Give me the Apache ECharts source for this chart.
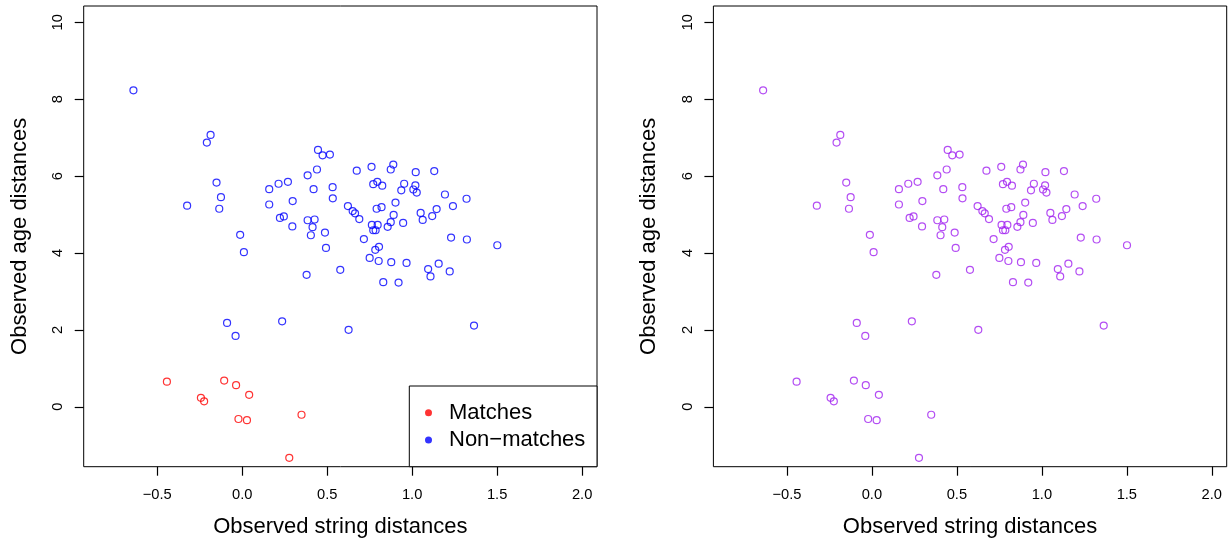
<!DOCTYPE html>
<html>
<head>
<meta charset="utf-8">
<script src="https://cdn.jsdelivr.net/npm/echarts@6/dist/echarts.min.js"></script>
<style>
html, body { margin: 0; padding: 0; background: #fff; }
#chart { width: 1230px; height: 541px; }
</style>
</head>
<body>
<div id="chart"></div>
<script>
// 匹配对 (红色)
var matchX = [-0.443, -0.106, -0.036, 0.041, -0.243, -0.224, -0.022, 0.028, 0.349, 0.277];
var matchY = [0.65, 0.68, 0.56, 0.31, 0.23, 0.14, -0.32, -0.35, -0.21, -1.33];

// 非匹配对 (蓝色)
var nonMatchX = [-0.64, -0.186, -0.208, -0.151, -0.125, -0.324, -0.135, -0.012, 0.010, -0.089,
    -0.039, 0.235, 0.626, 1.364, 0.446, 0.473, 0.516, 0.385, 0.440, 0.159,
    0.214, 0.269, 0.420, 0.532, 0.533, 0.159, 0.297, 0.222, 0.245, 0.295,
    0.385, 0.426, 0.414, 0.404, 0.487, 0.493, 0.674, 0.761, 0.889, 0.874,
    1.021, 1.130, 0.771, 0.795, 0.824, 0.953, 0.936, 1.019, 1.007, 1.027,
    0.902, 0.622, 0.650, 0.664, 0.689, 0.791, 0.820, 0.891, 0.874, 0.856,
    0.947, 0.763, 0.797, 0.771, 0.785, 1.050, 1.144, 1.062, 1.118, 0.716,
    0.805, 0.783, 0.750, 0.803, 0.877, 0.967, 1.094, 1.108, 1.156, 1.221,
    1.193, 1.320, 1.240, 1.229, 1.322, 1.501, 0.379, 0.577, 0.830, 0.920];
var nonMatchY = [8.23, 7.07, 6.87, 5.83, 5.45, 5.23, 5.15, 4.47, 4.02, 2.18,
    1.84, 2.22, 2.00, 2.11, 6.68, 6.54, 6.56, 6.02, 6.17, 5.66,
    5.80, 5.85, 5.66, 5.71, 5.42, 5.26, 5.35, 4.91, 4.95, 4.69,
    4.85, 4.87, 4.67, 4.46, 4.53, 4.13, 6.14, 6.24, 6.30, 6.17,
    6.10, 6.13, 5.79, 5.85, 5.75, 5.80, 5.63, 5.76, 5.65, 5.57,
    5.31, 5.22, 5.09, 5.03, 4.88, 5.15, 5.19, 4.99, 4.80, 4.68,
    4.78, 4.73, 4.73, 4.59, 4.59, 5.04, 5.14, 4.86, 4.96, 4.36,
    4.16, 4.08, 3.87, 3.79, 3.76, 3.74, 3.58, 3.39, 3.72, 3.52,
    5.52, 5.41, 5.22, 4.40, 4.35, 4.20, 3.43, 3.56, 3.24, 3.23];

// 刻度
var xTicks = [-0.5, 0, 0.5, 1, 1.5, 2];
var yTicks = [0, 2, 4, 6, 8, 10];

var X_MIN = -0.9326, X_MAX = 2.0876;
var Y_MIN = -1.561, Y_MAX = 10.424;
var TICK_LEN = 9;

var FONT = "'Liberation Sans', Arial, Helvetica, sans-serif";

function zip(xs, ys) {
    var out = [];
    for (var i = 0; i < xs.length; i++) {
        out.push([xs[i], ys[i]]);
    }
    return out;
}

function xAxisFor(idx) {
    return {
        type: 'value', gridIndex: idx,
        min: X_MIN, max: X_MAX,
        axisLine: {show: false, onZero: false},
        axisTick: {show: false},
        splitLine: {show: false},
        axisLabel: {
            customValues: xTicks, margin: 21, color: '#000', fontSize: 14.7, fontFamily: FONT,
            formatter: function (v) { return v.toFixed(1).replace('-', '\u2212'); }
        }
    };
}

function yAxisFor(idx) {
    return {
        type: 'value', gridIndex: idx,
        min: Y_MIN, max: Y_MAX,
        axisLine: {show: false, onZero: false},
        axisTick: {show: false},
        splitLine: {show: false},
        axisLabel: {
            customValues: yTicks, rotate: 90, margin: 18, color: '#000', fontSize: 14.7, fontFamily: FONT,
            formatter: function (v) { return String(v); }
        }
    };
}

// 刻度线：custom 系列，用坐标轴换算位置，不裁剪，画在边框外侧
function tickSeries(idx) {
    var data = [];
    xTicks.forEach(function (v) { data.push([v, Y_MIN, 0]); });
    yTicks.forEach(function (v) { data.push([X_MIN, v, 1]); });
    return {
        type: 'custom', xAxisIndex: idx, yAxisIndex: idx, clip: false, silent: true, z: 10,
        encode: {x: 0, y: 1},
        data: data,
        renderItem: function (params, api) {
            var p = api.coord([api.value(0), api.value(1)]);
            var shape;
            if (api.value(2) === 0) {
                var x = Math.round(p[0]) + 0.5;
                shape = {x1: x, y1: p[1], x2: x, y2: p[1] + TICK_LEN};
            } else {
                var y = Math.round(p[1]) + 0.5;
                shape = {x1: p[0] - TICK_LEN, y1: y, x2: p[0], y2: y};
            }
            return {type: 'line', shape: shape, style: {stroke: '#000', lineWidth: 1.2}};
        }
    };
}

function titleText(x, y, text, rot) {
    return {
        type: 'text', x: x, y: y, rotation: rot || 0,
        style: {text: text, font: '22px ' + FONT, fill: '#000', textAlign: 'center', textVerticalAlign: 'middle'}
    };
}

var circleStyle = function (c) {
    return {color: 'rgba(0,0,0,0)', borderColor: c, borderWidth: 1.2};
};

var option = {
    animation: false,
    backgroundColor: '#fff',
    grid: [
        {left: 83.7, top: 6, width: 513.3, height: 460.7, show: true, borderColor: '#000', borderWidth: 1, backgroundColor: 'transparent'},
        {left: 713.4, top: 6, width: 513.3, height: 460.7, show: true, borderColor: '#000', borderWidth: 1, backgroundColor: 'transparent'}
    ],
    xAxis: [xAxisFor(0), xAxisFor(1)],
    yAxis: [yAxisFor(0), yAxisFor(1)],
    legend: {
        orient: 'vertical', left: 425, top: 401.7, padding: 0, itemGap: 5.3,
        itemWidth: 7, itemHeight: 7, icon: 'circle', z: 20,
        textStyle: {fontSize: 22, fontFamily: FONT, color: '#000', lineHeight: 22, padding: [0, 0, 0, 12]},
        data: [
            {name: 'Matches', itemStyle: {color: 'red', borderWidth: 0}},
            {name: 'Non\u2212matches', itemStyle: {color: 'blue', borderWidth: 0}}
        ]
    },
    graphic: [
        titleText(340.3, 527, 'Observed string distances'),
        titleText(970, 527, 'Observed string distances'),
        titleText(19.5, 236.3, 'Observed age distances', Math.PI / 2),
        titleText(649.1, 236.3, 'Observed age distances', Math.PI / 2),
        // 图例边框
        {
            type: 'rect', z: 15,
            shape: {x: 409.3, y: 386, width: 187.7, height: 80.7},
            style: {fill: '#fff', stroke: '#000', lineWidth: 1}
        }
    ],
    series: [
        {
            name: 'Matches', type: 'scatter', xAxisIndex: 0, yAxisIndex: 0,
            symbol: 'circle', symbolSize: 7, itemStyle: circleStyle('red'),
            data: zip(matchX, matchY)
        },
        {
            name: 'Non\u2212matches', type: 'scatter', xAxisIndex: 0, yAxisIndex: 0,
            symbol: 'circle', symbolSize: 7, itemStyle: circleStyle('blue'),
            data: zip(nonMatchX, nonMatchY)
        },
        {
            name: 'All pairs', type: 'scatter', xAxisIndex: 1, yAxisIndex: 1,
            symbol: 'circle', symbolSize: 7, itemStyle: circleStyle('#a020f0'),
            data: zip(matchX.concat(nonMatchX), matchY.concat(nonMatchY))
        },
        tickSeries(0),
        tickSeries(1)
    ]
};

var myChart = echarts.init(document.getElementById('chart'));
myChart.setOption(option);
</script>
</body>
</html>
